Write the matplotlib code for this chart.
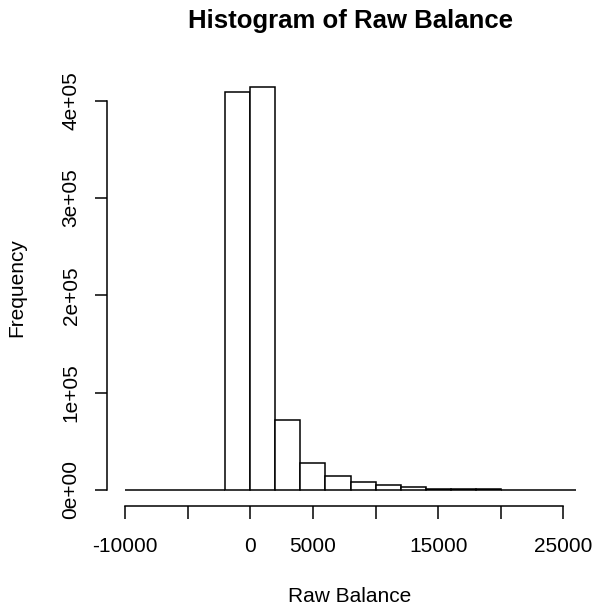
import matplotlib
matplotlib.use('Agg')
import matplotlib.pyplot as plt
import numpy as np

plt.rcParams['font.family'] = ['Liberation Sans', 'DejaVu Sans']

# histogram bins (left edges, width 2000) and counts
bin_edges = [-10000, -8000, -6000, -4000, -2000, 0, 2000, 4000, 6000, 8000,
             10000, 12000, 14000, 16000, 18000, 20000, 22000, 24000, 26000]
counts = [0, 0, 0, 0, 408500, 414000, 72000, 28000, 14100, 8500,
          5100, 3400, 1300, 900, 600, 0, 0, 0]

x_ticks = [-10000, -5000, 0, 5000, 10000, 15000, 20000, 25000]
x_labels = ['-10000', '', '0', '5000', '', '15000', '', '25000']
y_ticks = [0, 100000, 200000, 300000, 400000]
y_labels = ['0e+00', '1e+05', '2e+05', '3e+05', '4e+05']

W, H = 593, 611
fig = plt.figure(figsize=(W / 100, H / 100), dpi=100)
ax = fig.add_axes([107 / W, (H - 506) / H, (594 - 107) / W, (506 - 71) / H])

edges = np.array(bin_edges)
ax.bar(edges[:-1], counts, width=np.diff(edges), align='edge',
       facecolor='white', edgecolor='black', linewidth=1.1, clip_on=False)

# R style: range extended by 4 %
xr = edges[-1] - edges[0]
ax.set_xlim(edges[0] - 0.04 * xr, edges[-1] + 0.04 * xr)
ym = max(counts)
ax.set_ylim(-0.04 * ym, ym * 1.04)

for s in ['top', 'right']:
    ax.spines[s].set_visible(False)
ax.spines['bottom'].set_bounds(x_ticks[0], x_ticks[-1])
ax.spines['left'].set_bounds(y_ticks[0], y_ticks[-1])
ax.spines['bottom'].set_linewidth(1.1)
ax.spines['left'].set_linewidth(1.1)

ax.set_xticks(x_ticks)
ax.set_xticklabels(x_labels)
ax.set_yticks(y_ticks)
ax.set_yticklabels(y_labels, rotation=90, va='center')
ax.tick_params(axis='both', length=9, width=1.1, labelsize=15, colors='black')
ax.tick_params(axis='x', pad=13)
ax.tick_params(axis='y', pad=10)

fig.text(350 / W, 1 - 28 / H, 'Histogram of Raw Balance', ha='center',
         va='baseline', fontsize=18.5, fontweight='bold')
fig.text(350 / W, 1 - 597 / H, 'Raw Balance', ha='center', va='center',
         fontsize=15)
fig.text(17 / W, 1 - 288 / H, 'Frequency', ha='center', va='center',
         fontsize=15, rotation=90)

fig.savefig('out.png', dpi=100)
